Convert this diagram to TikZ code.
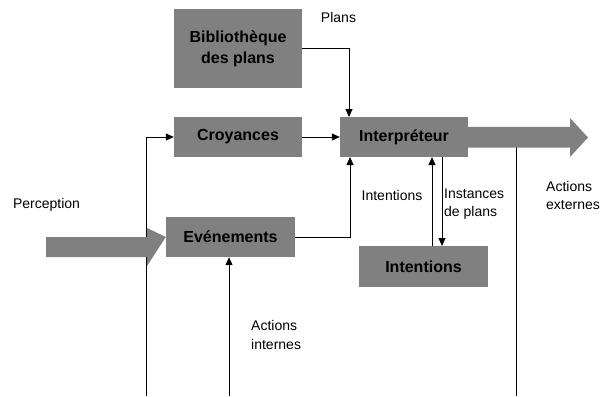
\documentclass[tikz,border=0pt]{standalone}
\usepackage{fontspec}
\setmainfont{Liberation Sans}
\usetikzlibrary{arrows.meta}
\definecolor{boxgrey}{RGB}{128,128,128}
\tikzset{
  module/.style={fill=boxgrey, draw=none, inner sep=0pt, align=center,
    font=\fontsize{16}{21}\selectfont\bfseries},
  lbl/.style={inner sep=0pt, font=\fontsize{14}{18.5}\selectfont},
  flow/.style={line width=0.8pt, -{Triangle[length=8pt,width=7pt]}},
  plain/.style={line width=0.8pt},
  bigarrow/.style={fill=boxgrey, draw=none}
}
\begin{document}
\begin{tikzpicture}[x=1pt, y=-1pt]
\useasboundingbox (0,0) rectangle (601,396);

% modules
\node[module, minimum width=128pt, minimum height=79pt] (bib) at (238,48.5) {Biblioth\`eque\\des plans};
\node[module, minimum width=128pt, minimum height=40pt] (croy) at (238,137) {Croyances};
\node[module, minimum width=128pt, minimum height=40pt] (interp) at (404,137) {Interpr\'eteur};
\node[module, minimum width=129pt, minimum height=40pt] (evt) at (230.5,237) {Ev\'enements};
\node[module, minimum width=129pt, minimum height=41pt] (intent) at (423.5,266.5) {Intentions};

% free ends of the vertical feeds
\coordinate (feedB) at (146,396);
\coordinate (feedA) at (229,396);
\coordinate (extA) at (516,147);
\coordinate (extB) at (516,396);
\coordinate (plansIn) at (349,117);
\coordinate (evtIn) at (350,157);
\coordinate (upA) at (432,246);
\coordinate (upB) at (432,157);
\coordinate (downA) at (442,157);
\coordinate (downB) at (442,246);

% connectors
\draw[flow] (feedB) |- (croy.west);
\draw[flow] (croy.east) -- (interp.west);
\draw[flow] (bib.east) -| (plansIn);
\draw[flow] (evt.east) -| (evtIn);
\draw[flow] (feedA) -- (feedA |- evt.south);
\draw[flow] (upA) -- (upB);
\draw[flow] (downA) -- (downB);
\draw[plain] (extA) -- (extB);

% perception input arrow
\path[bigarrow] (46,237) -- (147,237) -- (147,228) -- (evt.west) -- (147,266) -- (147,257) -- (46,257) -- cycle;
% external actions output arrow
\path[bigarrow] (interp.north east) ++(0,10) -- (570,127) -- (570,118) -- (588,137.5) -- (570,157) -- (570,147.5) -- (468,147.5) -- cycle;

% labels
\node[lbl] (lplans) at (338.5,17) {Plans};
\node[lbl] (lperc) at (46.5,205) {Perception};
\node[lbl, anchor=west, align=left] (lai) at (251,335) {Actions\\internes};
\node[lbl] (lint) at (392,195) {Intentions};
\node[lbl, anchor=west, align=left] (linst) at (444,204) {Instances\\de plans};
\node[lbl, anchor=west, align=left] (lae) at (546,195.5) {Actions\\externes};
\end{tikzpicture}
\end{document}
